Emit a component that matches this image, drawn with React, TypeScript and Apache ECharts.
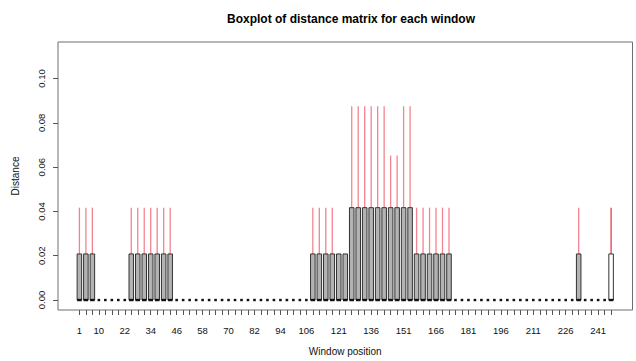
import React, { useEffect, useRef } from "react";
import * as echarts from "echarts";

// Window identifiers (one box per window, stepping by 3)
const windowNames = [
  1, 4, 7, 10, 13, 16, 19, 22, 25, 28,
  31, 34, 37, 40, 43, 46, 49, 52, 55, 58,
  61, 64, 67, 70, 73, 76, 79, 82, 85, 88,
  91, 94, 97, 100, 103, 106, 109, 112, 115, 118,
  121, 124, 127, 130, 133, 136, 139, 142, 145, 148,
  151, 154, 157, 160, 163, 166, 169, 172, 175, 178,
  181, 184, 187, 190, 193, 196, 199, 202, 205, 208,
  211, 214, 217, 220, 223, 226, 229, 232, 235, 238,
  241, 244, 247,
];

// Lower hinge / median of each window's distances
const medians = [
  0, 0, 0, 0, 0, 0, 0, 0, 0, 0,
  0, 0, 0, 0, 0, 0, 0, 0, 0, 0,
  0, 0, 0, 0, 0, 0, 0, 0, 0, 0,
  0, 0, 0, 0, 0, 0, 0, 0, 0, 0,
  0, 0, 0, 0, 0, 0, 0, 0, 0, 0,
  0, 0, 0, 0, 0, 0, 0, 0, 0, 0,
  0, 0, 0, 0, 0, 0, 0, 0, 0, 0,
  0, 0, 0, 0, 0, 0, 0, 0, 0, 0,
  0, 0, 0,
];

// Upper hinge (Q3)
const boxTop = [
  0.0208, 0.0208, 0.0208, 0, 0, 0, 0, 0, 0.0208, 0.0208,
  0.0208, 0.0208, 0.0208, 0.0208, 0.0208, 0, 0, 0, 0, 0,
  0, 0, 0, 0, 0, 0, 0, 0, 0, 0,
  0, 0, 0, 0, 0, 0, 0.0208, 0.0208, 0.0208, 0.0208,
  0.0208, 0.0208, 0.0417, 0.0417, 0.0417, 0.0417, 0.0417, 0.0417, 0.0417, 0.0417,
  0.0417, 0.0417, 0.0208, 0.0208, 0.0208, 0.0208, 0.0208, 0.0208, 0, 0,
  0, 0, 0, 0, 0, 0, 0, 0, 0, 0,
  0, 0, 0, 0, 0, 0, 0, 0.0208, 0, 0,
  0, 0, 0.0208,
];

// Upper whisker end (maximum)
const whiskerTop = [
  0.0417, 0.0417, 0.0417, 0, 0, 0, 0, 0, 0.0417, 0.0417,
  0.0417, 0.0417, 0.0417, 0.0417, 0.0417, 0, 0, 0, 0, 0,
  0, 0, 0, 0, 0, 0, 0, 0, 0, 0,
  0, 0, 0, 0, 0, 0, 0.0417, 0.0417, 0.0417, 0.0417,
  0.0208, 0.0208, 0.0875, 0.0875, 0.0875, 0.0875, 0.0875, 0.0875, 0.0652, 0.0652,
  0.0875, 0.0875, 0.0417, 0.0417, 0.0417, 0.0417, 0.0417, 0.0417, 0, 0,
  0, 0, 0, 0, 0, 0, 0, 0, 0, 0,
  0, 0, 0, 0, 0, 0, 0, 0.0417, 0, 0,
  0, 0, 0.0417,
];

// Windows printed on the x axis
const xTickLabels = [1, 10, 22, 34, 46, 58, 70, 82, 94, 106, 121, 136, 151, 166, 181, 196, 211, 226, 241];
// Y axis tick values
const yTicks = [0, 0.02, 0.04, 0.06, 0.08, 0.1];
// Last window is drawn with an unfilled box
const highlightWindow = 247;

const FONT = "'Liberation Sans', Arial, Helvetica, sans-serif";

export default function App() {
  const ref = useRef<HTMLDivElement>(null);

  useEffect(() => {
    if (!ref.current) return;
    const chart = echarts.init(ref.current, undefined, { renderer: "svg" });

    const data = windowNames.map((w, k) => [
      k + 1,
      boxTop[k],
      whiskerTop[k],
      medians[k],
      w === highlightWindow ? 1 : 0,
    ]);
    const posOf = (w: number) => windowNames.indexOf(w) + 1;

    chart.setOption({
      animation: false,
      backgroundColor: "#ffffff",
      title: {
        text: "Boxplot of distance matrix for each window",
        left: 346,
        top: 8,
        textAlign: "center",
        textStyle: { fontFamily: FONT, fontSize: 12, fontWeight: "bold", color: "#000" },
      },
      grid: {
        left: 58,
        top: 42,
        right: 3.5,
        bottom: 49,
        show: true,
        borderColor: "#6e6e6e",
        borderWidth: 1,
        backgroundColor: "transparent",
      },
      xAxis: {
        type: "value",
        min: -2.3,
        max: 86.3,
        name: "Window position",
        nameLocation: "middle",
        nameGap: 36,
        nameTextStyle: { fontFamily: FONT, fontSize: 10, color: "#111" },
        axisLine: { show: false, onZero: false },
        splitLine: { show: false },
        axisTick: {
          show: true,
          length: 5,
          lineStyle: { color: "#555" },
          customValues: windowNames.map((_, k) => k + 1),
        },
        axisLabel: {
          fontFamily: FONT,
          fontSize: 9.5,
          color: "#111",
          margin: 15,
          customValues: xTickLabels.map(posOf),
          formatter: (v: number) => String(windowNames[Math.round(v) - 1]),
        },
      },
      yAxis: {
        type: "value",
        min: -0.0045,
        max: 0.1165,
        name: "Distance",
        nameLocation: "middle",
        nameGap: 38,
        nameRotate: 90,
        nameTextStyle: { fontFamily: FONT, fontSize: 10, color: "#111" },
        axisLine: { show: false, onZero: false },
        splitLine: { show: false },
        axisTick: {
          show: true,
          length: 5,
          lineStyle: { color: "#555" },
          customValues: yTicks,
        },
        axisLabel: {
          fontFamily: FONT,
          fontSize: 9.5,
          color: "#111",
          rotate: 90,
          margin: 12,
          customValues: yTicks,
          formatter: (v: number) => v.toFixed(2),
        },
      },
      series: [
        {
          type: "custom",
          data,
          encode: { x: 0, y: [1, 2] },
          renderItem: (_params: any, api: any) => {
            const pos = api.value(0);
            const q3 = api.value(1);
            const hi = api.value(2);
            const med = api.value(3);
            const hl = api.value(4) === 1;
            const base = api.coord([pos, med]);
            const top = api.coord([pos, q3]);
            const wt = api.coord([pos, hi]);
            const hw = api.size([0.7, 0])[0] / 2;
            const children: any[] = [];
            if (hi > q3) {
              children.push({
                type: "line",
                shape: { x1: base[0], y1: top[1], x2: base[0], y2: wt[1] },
                style: { stroke: hl ? "#ea3b48" : "#f3848e", lineWidth: 1.3 },
              });
            }
            if (q3 > med) {
              children.push({
                type: "rect",
                shape: { x: base[0] - hw, y: top[1], width: hw * 2, height: base[1] - top[1] },
                style: { fill: hl ? "#ffffff" : "#b3b3b3", stroke: "#333", lineWidth: 1 },
              });
            }
            const mw = q3 > med ? hw : 1.3;
            children.push({
              type: "line",
              shape: { x1: base[0] - mw, y1: base[1], x2: base[0] + mw, y2: base[1] },
              style: { stroke: "#111", lineWidth: 2.4 },
            });
            return { type: "group", children };
          },
        },
      ],
    });

    return () => chart.dispose();
  }, []);

  return (
    <div
      ref={ref}
      style={{ position: "fixed", left: 0, top: 0, width: 636, height: 361, background: "#fff" }}
    />
  );
}
